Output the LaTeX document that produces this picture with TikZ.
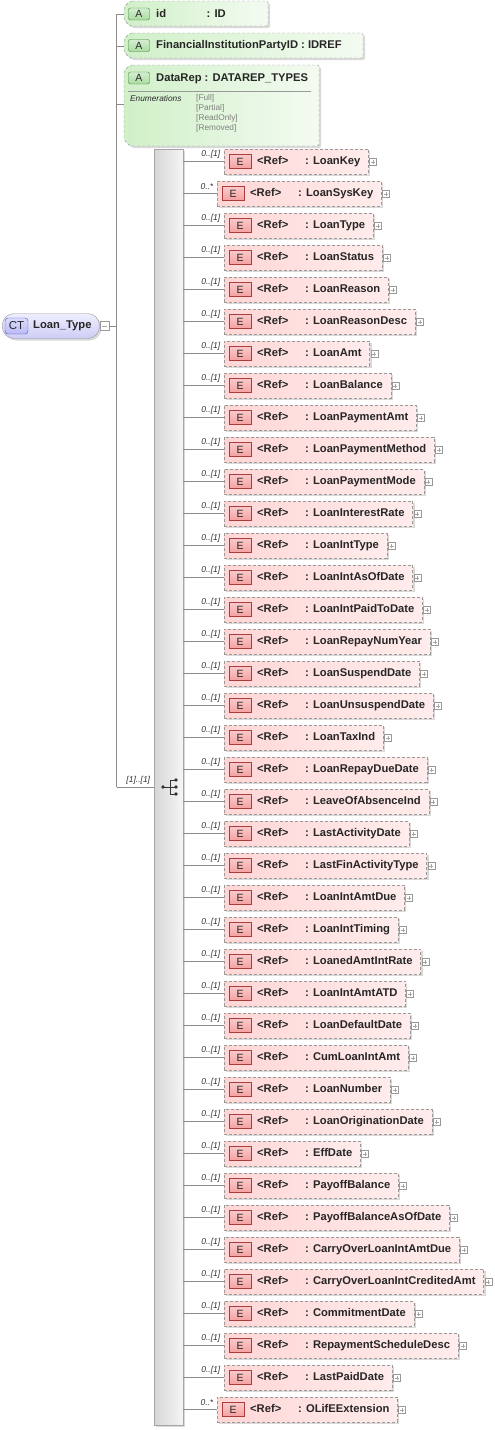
\documentclass[tikz,border=0pt]{standalone}
\usepackage{fontspec}
\setmainfont{Liberation Sans}
\usetikzlibrary{shadows, calc}

\definecolor{elfillL}{RGB}{255,214,214}
\definecolor{elfillR}{RGB}{255,236,236}
\definecolor{etagfill}{RGB}{245,160,160}
\definecolor{etagdraw}{RGB}{170,60,60}
\definecolor{atfillL}{RGB}{208,240,200}
\definecolor{atfillR}{RGB}{244,251,242}
\definecolor{atagfill}{RGB}{170,220,160}
\definecolor{atagdraw}{RGB}{60,130,60}
\definecolor{ctfillT}{RGB}{238,238,255}
\definecolor{ctfillB}{RGB}{205,205,245}
\definecolor{ctagfill}{RGB}{185,185,250}
\definecolor{ctagdraw}{RGB}{80,80,180}

\begin{document}
\begin{tikzpicture}[x=1pt, y=-1pt,
    line/.style={draw=black!45},
    shade2/.style={general shadow={fill=black!15, shadow xshift=2pt, shadow yshift=-2pt}},
    elbox/.style={shape=rectangle, draw=black!40, dash pattern=on 3pt off 2pt,
        left color=elfillL, right color=elfillR, shade2, anchor=west,
        minimum height=25pt, inner xsep=0pt, inner ysep=0pt,
        text height=8.2pt, text depth=2.4pt, text=black!85,
        font=\fontsize{11.2}{13}\selectfont\bfseries},
    etag/.style={draw=etagdraw, top color=etagfill!55, bottom color=etagfill,
        minimum width=22pt, minimum height=14pt, inner sep=0pt,
        font=\fontsize{10.5}{11}\selectfont, text=black!85},
    atag/.style={draw=atagdraw, top color=atagfill!50, bottom color=atagfill,
        rounded corners=2pt, minimum width=21pt, minimum height=12pt, inner sep=0pt,
        font=\fontsize{10.5}{11}\selectfont, text=black!85},
    attrbox/.style={draw=black!40, dash pattern=on 3pt off 2pt, rounded corners=2pt,
        left color=atfillL, right color=atfillR, shade2},
    atext/.style={anchor=base west, inner sep=0pt, text=black!85,
        font=\fontsize{11.2}{13}\selectfont\bfseries},
    enumval/.style={anchor=west, inner sep=0pt, text=black!50,
        font=\fontsize{8.3}{10}\selectfont},
    mult/.style={anchor=south east, inner sep=0pt, text=black!80,
        font=\itshape\fontsize{8.5}{10}\selectfont},
    plusbox/.style={draw=black!40, fill=white, minimum size=7pt, inner sep=0pt,
        path picture={\draw[black!35]
            ([xshift=-2pt]path picture bounding box.center) -- ([xshift=2pt]path picture bounding box.center)
            ([yshift=-2pt]path picture bounding box.center) -- ([yshift=2pt]path picture bounding box.center);}},
    minusbox/.style={draw=black!40, fill=white, minimum size=9pt, inner sep=0pt,
        path picture={\draw[black!35]
            ([xshift=-2.5pt]path picture bounding box.center) -- ([xshift=2.5pt]path picture bounding box.center);}},
    seqbar/.style={draw=black!35, left color=black!16, right color=black!4, shade2,
        minimum width=29pt, minimum height=1276pt, inner sep=0pt},
    ctnode/.style={draw=black!40, top color=ctfillT, bottom color=ctfillB, shade2,
        rounded corners=12pt, minimum height=25pt, inner xsep=0pt, anchor=west,
        text=black!85, font=\fontsize{11.2}{13}\selectfont\bfseries},
    ctag/.style={draw=ctagdraw, top color=ctagfill!50, bottom color=ctagfill,
        rounded corners=3pt, minimum width=23pt, minimum height=16pt, inner sep=0pt,
        font=\fontsize{11.5}{12}\selectfont, text=black!85}
]
\useasboundingbox (0,0) rectangle (495,1430);

% complex type
\node[ctnode] (ct) at (2,326) {\hspace*{31pt}Loan\_Type\hspace*{8pt}};
\node[ctag] (ctt) at ([xshift=14.5pt]ct.west) {CT};
\node[minusbox, anchor=west] (ctm) at (ct.east) {};

% spine
\coordinate (top) at (116.5,14);
\coordinate (bot) at (116.5,787);
\draw[line] (top) -- (bot);
\draw[line] (ctm.east) -- (ctm.east -| top);

% attributes
\draw[attrbox] (130,1) -- (268,1) -- (268,26) -- (130,26) -- (124,20) -- (124,7) -- cycle;
\draw[attrbox] (130,33) -- (363,33) -- (363,58) -- (130,58) -- (124,52) -- (124,39) -- cycle;
\draw[attrbox] (130,65) -- (319,65) -- (319,146) -- (130,146) -- (124,140) -- (124,71) -- cycle;
\coordinate (a1w) at (124,14);
\coordinate (a2w) at (124,46);
\coordinate (a3w) at (124,104);
\draw[line] (top) -- (a1w);
\draw[line] (top |- a2w) -- (a2w);
\draw[line] (top |- a3w) -- (a3w);

\node[atag] (t1) at (139,14) {A};
\node[atag] (t2) at (139,45.5) {A};
\node[atag] (t3) at (139,78) {A};
\node[atext] (n1) at (156,17.5) {\makebox[50.5pt][l]{id}: ID};
\node[atext] (n2) at (156,48.5) {FinancialInstitutionPartyID : IDREF};
\node[atext] (n3) at (156,81) {DataRep : DATAREP\_TYPES};

\draw[black!40] (128,91) -- (311,91);
\node[enumval, text=black!85, font=\itshape\fontsize{8.3}{10}\selectfont] (enum) at (130,99) {Enumerations};
\foreach \v [count=\k from 0] in {Full, Partial, ReadOnly, Removed}
    \node[enumval] (v\k) at (196,98.5+9.8*\k) {[\v]};

% sequence
\node[seqbar] (bar) at (168.5,787) {};
\draw[line] (bot) -- (bar.west);
\node[mult] (bm) at ([xshift=-3.5pt, yshift=2.5pt]bar.west) {[1]..[1]};

\draw[black!80, line width=0.8pt]
    ([xshift=-5.5pt]bar.center) -- ([xshift=1.5pt]bar.center)
    ([xshift=1.5pt, yshift=7pt]bar.center) -- ([xshift=1.5pt, yshift=-7pt]bar.center)
    ([xshift=1.5pt, yshift=7pt]bar.center) -- ([xshift=7.5pt, yshift=7pt]bar.center)
    ([xshift=1.5pt]bar.center) -- ([xshift=7.5pt]bar.center)
    ([xshift=1.5pt, yshift=-7pt]bar.center) -- ([xshift=7.5pt, yshift=-7pt]bar.center);
\foreach \dx/\dy in {-5.5/0, 7.5/7, 7.5/0, 7.5/-7}
    \fill[black!80] ([xshift=\dx pt, yshift=\dy pt]bar.center) circle (1.9pt);

% elements
\foreach \nm [count=\i from 0] in {LoanKey, LoanSysKey, LoanType, LoanStatus, LoanReason,
    LoanReasonDesc, LoanAmt, LoanBalance, LoanPaymentAmt, LoanPaymentMethod,
    LoanPaymentMode, LoanInterestRate, LoanIntType, LoanIntAsOfDate, LoanIntPaidToDate,
    LoanRepayNumYear, LoanSuspendDate, LoanUnsuspendDate, LoanTaxInd, LoanRepayDueDate,
    LeaveOfAbsenceInd, LastActivityDate, LastFinActivityType, LoanIntAmtDue, LoanIntTiming,
    LoanedAmtIntRate, LoanIntAmtATD, LoanDefaultDate, CumLoanIntAmt, LoanNumber,
    LoanOriginationDate, EffDate, PayoffBalance, PayoffBalanceAsOfDate, CarryOverLoanIntAmtDue,
    CarryOverLoanIntCreditedAmt, CommitmentDate, RepaymentScheduleDesc, LastPaidDate, OLifEExtension}
{
    \pgfmathsetmacro\ey{161.5+32*\i}
    \ifnum\i=1 \def\ex{217}\def\mlt{0..*}%
    \else\ifnum\i=39 \def\ex{217}\def\mlt{0..*}%
    \else \def\ex{224}\def\mlt{0..[1]}\fi\fi
    \node[elbox] (e\i) at (\ex,\ey) {\hspace*{33pt}\makebox[48pt][l]{<Ref>}: \nm\hspace*{8pt}};
    \node[etag] (et\i) at ([xshift=16pt]e\i.west) {E};
    \node[plusbox] (ep\i) at ([xshift=4.5pt, yshift=-0.5pt]e\i.east) {};
    \draw[line] (bar.east |- e\i.west) -- (e\i.west);
    \node[mult] (em\i) at ([xshift=-3.5pt, yshift=3.5pt]e\i.west) {\mlt};
}

\end{tikzpicture}
\end{document}
